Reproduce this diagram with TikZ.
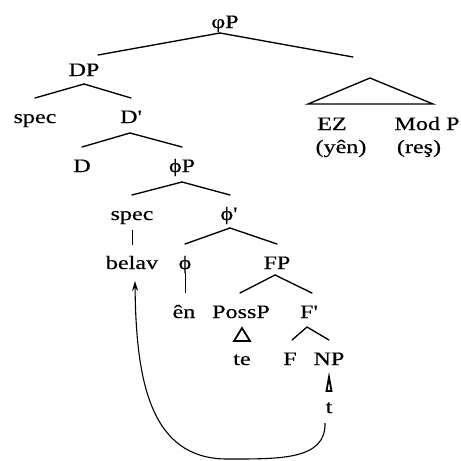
\documentclass[tikz,border=0pt]{standalone}
\usepackage{fontspec}
\setmainfont{Liberation Serif}[FakeBold=0.3]
\usetikzlibrary{arrows.meta,calc}
\begin{document}
\begin{tikzpicture}[x=1pt,y=-1pt,
  lab/.style={anchor=base,inner xsep=0pt,inner ysep=0pt,outer xsep=0pt,outer ysep=4pt,
    text height=21pt,text depth=4pt,xscale=1.27,font=\fontsize{19}{22}\selectfont},
  br/.style={line width=1.35pt,line cap=round},
  vbr/.style={line width=1pt},
  tri/.style={line width=1.35pt,line join=miter},
  smalltri/.style={line width=1.8pt,line join=miter},
  mv/.style={line width=1.1pt,-{Stealth[length=10pt,width=6pt]}}]
\useasboundingbox (0,0) rectangle (461,461);
% nodes
\node[lab] (root) at (225,28) {φP};
\node[lab] (DP) at (84,76) {DP};
\node[lab] (spec1) at (35,123) {spec};
\node[lab] (Dbar) at (131,123) {D\textquotesingle};
\node[lab] (EZ) at (332,130) {EZ};
\node[lab] (ModP) at (427,130) {Mod P};
\node[lab] (yen) at (341,153) {(yên)};
\node[lab] (res) at (419,153) {(reş)};
\node[lab] (D) at (82,172) {D};
\node[lab] (phiP) at (182,172) {ϕP};
\node[lab] (spec2) at (132,220) {spec};
\node[lab] (phibar) at (229,220) {ϕ\textquotesingle};
\node[lab] (belav) at (132,269) {belav};
\node[lab] (phi) at (185,269) {ϕ};
\node[lab] (FP) at (277,269) {FP};
\node[lab] (en) at (184,318) {ên};
\node[lab] (PossP) at (241,318) {PossP};
\node[lab] (Fbar) at (309,318) {F\textquotesingle};
\node[lab] (te) at (242,365) {te};
\node[lab] (F) at (290,365) {F};
\node[lab] (NP) at (329,365) {NP};
\node[lab] (t) at (329,413) {t};
\coordinate (rootR) at (353,57);
% branches
\draw[br] ([shift={(-5pt,3pt)}]root.south) -- ([shift={(14pt,-4pt)}]DP.north);
\draw[br] ([shift={(-5pt,3pt)}]root.south) -- (rootR);
\draw[br] (DP.south) -- (spec1.north);
\draw[br] (DP.south) -- (Dbar.north);
\draw[br] ([xshift=-1pt,yshift=-2pt]Dbar.south) -- (D.north);
\draw[br] ([xshift=-1pt,yshift=-2pt]Dbar.south) -- (phiP.north);
\draw[br] ([yshift=-2pt]phiP.south) -- (spec2.north);
\draw[br] ([yshift=-2pt]phiP.south) -- ([xshift=1pt]phibar.north);
\draw[vbr] ([yshift=-2pt]spec2.south) -- ([yshift=-1pt]spec2.south |- belav.north);
\draw[br] ([xshift=1pt]phibar.south) -- (phi.north);
\draw[br] ([xshift=1pt]phibar.south) -- (FP.north);
\draw[vbr] ([yshift=4pt]phi.south) -- (phi.south |- en.north);
\draw[br] ([xshift=-2pt,yshift=2pt]FP.south) -- ([xshift=-1pt]PossP.north);
\draw[br] ([xshift=-2pt,yshift=2pt]FP.south) -- ([xshift=3pt]Fbar.north);
\draw[br] ([xshift=-2pt,yshift=-1pt]Fbar.south) -- ([xshift=2pt]F.north);
\draw[br] ([xshift=-2pt,yshift=-1pt]Fbar.south) -- (NP.north);
% triangles
\draw[tri] (370,78) -- (308,104) -- (433,104) -- cycle;
\draw[smalltri] (242,328) -- (234,341) -- (250,341) -- cycle;
\draw[smalltri] (329,377) -- (326.5,391) -- (331.5,391) -- cycle;
% movement arrow
\draw[mv] ([xshift=-4pt,yshift=-2pt]t.south) .. controls (326,460) and (280,459) .. (227,459)
  .. controls (150,459) and (136,380) .. ([xshift=3pt,yshift=-4pt]belav.south);
\end{tikzpicture}
\end{document}
